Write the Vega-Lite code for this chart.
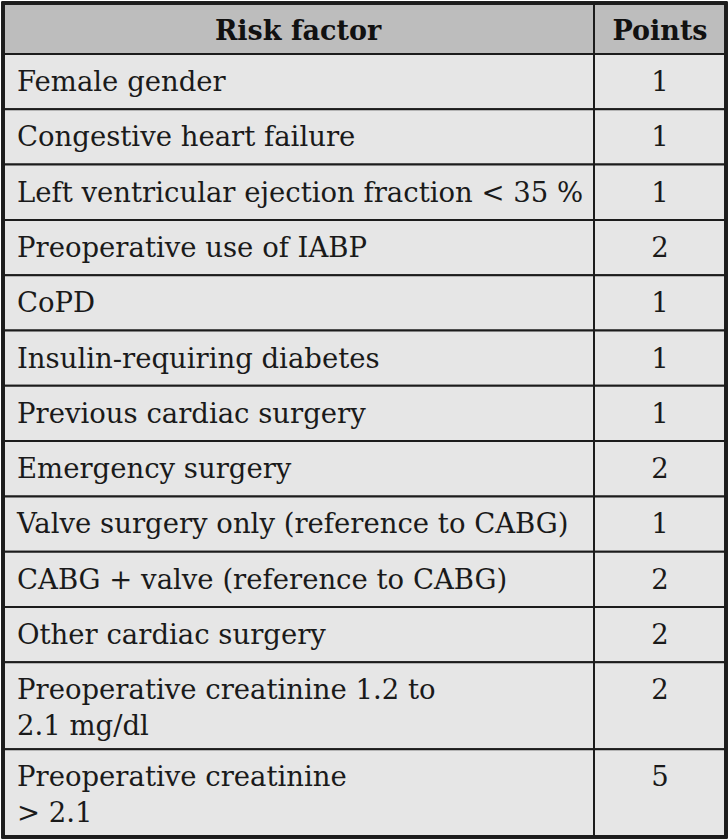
{
  "$schema": "https://vega.github.io/schema/vega-lite/v6.json",
  "width": 728,
  "height": 839,
  "padding": 0,
  "autosize": {"type": "none"},
  "background": "white",
  "config": {"view": {"stroke": null}},
  "data": {"values": [
    {"id": 0, "factor": "Risk factor", "points": "Points", "kind": "header"},
    {"id": 1, "factor": "Female gender", "points": "1", "kind": "body"},
    {"id": 2, "factor": "Congestive heart failure", "points": "1", "kind": "body"},
    {"id": 3, "factor": "Left ventricular ejection fraction < 35 %", "points": "1", "kind": "body"},
    {"id": 4, "factor": "Preoperative use of IABP", "points": "2", "kind": "body"},
    {"id": 5, "factor": "CoPD", "points": "1", "kind": "body"},
    {"id": 6, "factor": "Insulin-requiring diabetes", "points": "1", "kind": "body"},
    {"id": 7, "factor": "Previous cardiac surgery", "points": "1", "kind": "body"},
    {"id": 8, "factor": "Emergency surgery", "points": "2", "kind": "body"},
    {"id": 9, "factor": "Valve surgery only (reference to CABG)", "points": "1", "kind": "body"},
    {"id": 10, "factor": "CABG + valve (reference to CABG)", "points": "2", "kind": "body"},
    {"id": 11, "factor": "Other cardiac surgery", "points": "2", "kind": "body"},
    {"id": 12, "factor": "Preoperative creatinine 1.2 to\n2.1 mg/dl", "points": "2", "kind": "body"},
    {"id": 13, "factor": "Preoperative creatinine\n\u2004> 2.1", "points": "5", "kind": "body"}
  ]},
  "transform": [
    {"calculate": "length(split(datum.factor, '\\n'))", "as": "lines"},
    {"calculate": "datum.kind == 'header' ? 51 : 23.6 + 31.7 * datum.lines", "as": "h"},
    {"window": [{"op": "sum", "field": "h", "as": "cum"}], "sort": [{"field": "id"}], "frame": [null, 0]},
    {"calculate": "3 + datum.cum", "as": "bottom"},
    {"calculate": "datum.bottom - datum.h", "as": "top"},
    {"calculate": "datum.top + 37", "as": "base"}
  ],
  "layer": [
    {
      "mark": {"type": "rect", "stroke": "#1c1c1c", "strokeWidth": 2},
      "encoding": {
        "x": {"datum": 3, "type": "quantitative", "scale": {"domain": [0, 728], "nice": false, "zero": false}, "axis": null},
        "x2": {"datum": 726},
        "y": {"field": "top", "type": "quantitative", "scale": {"domain": [0, 839], "nice": false, "zero": false, "reverse": true}, "axis": null},
        "y2": {"field": "bottom"},
        "color": {"field": "kind", "type": "nominal", "scale": {"domain": ["header", "body"], "range": ["#bdbdbd", "#e6e6e6"]}, "legend": null}
      }
    },
    {
      "mark": {"type": "rule", "stroke": "#1c1c1c", "strokeWidth": 2},
      "encoding": {
        "x": {"datum": 594, "type": "quantitative"},
        "y": {"datum": 3, "type": "quantitative"},
        "y2": {"datum": 837}
      }
    },
    {
      "mark": {"type": "rect", "fill": null, "stroke": "#1c1c1c", "strokeWidth": 2.5},
      "encoding": {
        "x": {"datum": 3, "type": "quantitative"},
        "x2": {"datum": 726},
        "y": {"datum": 3, "type": "quantitative"},
        "y2": {"datum": 837}
      }
    },
    {
      "transform": [{"filter": "datum.kind == 'body'"}],
      "mark": {"type": "text", "align": "left", "baseline": "alphabetic", "font": "DejaVu Serif", "fontSize": 27.5, "lineHeight": 36, "lineBreak": "\n", "color": "#1a1a1a"},
      "encoding": {
        "x": {"datum": 17, "type": "quantitative"},
        "y": {"field": "base", "type": "quantitative"},
        "text": {"field": "factor", "type": "nominal"}
      }
    },
    {
      "transform": [{"filter": "datum.kind == 'body'"}],
      "mark": {"type": "text", "align": "center", "baseline": "alphabetic", "font": "DejaVu Serif", "fontSize": 27.5, "color": "#1a1a1a"},
      "encoding": {
        "x": {"datum": 660, "type": "quantitative"},
        "y": {"field": "base", "type": "quantitative"},
        "text": {"field": "points", "type": "nominal"}
      }
    },
    {
      "transform": [{"filter": "datum.kind == 'header'"}],
      "mark": {"type": "text", "align": "center", "baseline": "alphabetic", "font": "DejaVu Serif", "fontSize": 27, "fontWeight": "bold", "color": "#111111"},
      "encoding": {
        "x": {"datum": 298, "type": "quantitative"},
        "y": {"field": "base", "type": "quantitative"},
        "text": {"field": "factor", "type": "nominal"}
      }
    },
    {
      "transform": [{"filter": "datum.kind == 'header'"}],
      "mark": {"type": "text", "align": "center", "baseline": "alphabetic", "font": "DejaVu Serif", "fontSize": 27, "fontWeight": "bold", "color": "#111111"},
      "encoding": {
        "x": {"datum": 660, "type": "quantitative"},
        "y": {"field": "base", "type": "quantitative"},
        "text": {"field": "points", "type": "nominal"}
      }
    }
  ]
}
